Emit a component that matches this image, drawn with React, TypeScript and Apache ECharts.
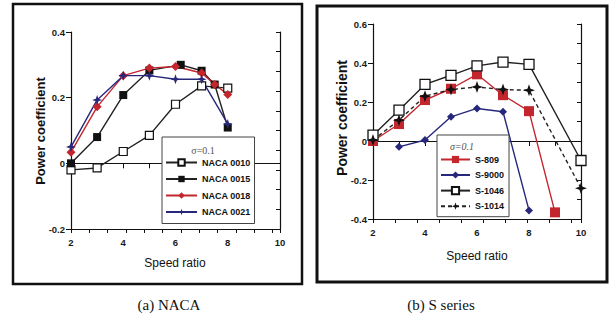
import React, { useEffect, useRef } from "react";
import * as echarts from "echarts";

// ---- Data: (a) NACA ----
const naca0010X = [2, 3, 4, 5, 6, 7, 8];
const naca0010Y = [-0.02, -0.014, 0.036, 0.085, 0.18, 0.236, 0.229];
const naca0015X = [2, 3, 4, 5, 6.2, 7, 7.5, 8];
const naca0015Y = [0, 0.08, 0.208, 0.283, 0.3, 0.282, 0.24, 0.109];
const naca0018X = [2, 3, 4, 5, 6, 7, 7.5, 8];
const naca0018Y = [0.034, 0.172, 0.267, 0.29, 0.295, 0.275, 0.24, 0.21];
const naca0021X = [2, 3, 4, 5, 6, 7, 8];
const naca0021Y = [0.05, 0.193, 0.267, 0.267, 0.256, 0.256, 0.12];

// ---- Data: (b) S series ----
const s809X = [2, 3, 4, 5, 6, 7, 8, 9];
const s809Y = [0, 0.087, 0.21, 0.268, 0.342, 0.235, 0.153, -0.366];
const s9000X = [3, 4, 5, 6, 7, 8];
const s9000Y = [-0.03, 0.005, 0.124, 0.167, 0.15, -0.356];
const s1046X = [2, 3, 4, 5, 6, 7, 8, 10];
const s1046Y = [0.03, 0.158, 0.29, 0.337, 0.385, 0.405, 0.393, -0.1];
const s1014X = [2, 3, 4, 5, 6, 7, 8, 10];
const s1014Y = [0.005, 0.107, 0.23, 0.264, 0.277, 0.264, 0.26, -0.242];

const nacaNames = ["NACA 0010", "NACA 0015", "NACA 0018", "NACA 0021"];
const sNames = ["S-809", "S-9000", "S-1046", "S-1014"];
const xTickLabels = [2, 4, 6, 8, 10];
const captions = ["(a) NACA", "(b) S series"];
const sigmaLabel = "σ=0.1";
const yTitle = "Power coefficient";
const xTitle = "Speed ratio";

const zip = (xs: number[], ys: number[]) => xs.map((x, i) => [x, ys[i]]);

const SANS = "'Liberation Sans', Arial, sans-serif";
const SERIF = "'Liberation Serif', 'Times New Roman', serif";
const RED = "#c4262e";
const BLUE = "#27277c";
const STAR = "path://M0,-10 L2.6,-2.6 L10,0 L2.6,2.6 L0,10 L-2.6,2.6 L-10,0 L-2.6,-2.6 Z";

function makeAxes(gi: number, yMin: number, yMax: number, topMax: number) {
  const labelStyle = { fontFamily: SANS, fontWeight: "bold", fontSize: 9.5, color: "#1a1a1a" };
  const axisLine = { show: true, lineStyle: { color: "#111", width: 1.2 } };
  const xs = [
    {
      gridIndex: gi, type: "value", position: "bottom", min: 2, max: 10,
      axisLine,
      axisTick: { show: true, inside: false, length: 5, customValues: [2, 3, 4, 5, 6, 7, 8, 9, 10], lineStyle: { color: "#111" } },
      axisLabel: { ...labelStyle, margin: 8, customValues: xTickLabels },
      splitLine: { show: false },
    },
    {
      gridIndex: gi, type: "value", position: "top", min: 0, max: topMax, interval: 1,
      axisLine,
      axisTick: { show: true, inside: true, length: 4, lineStyle: { color: "#111" } },
      axisLabel: { show: false },
      splitLine: { show: false },
    },
  ];
  const ys = [
    {
      gridIndex: gi, type: "value", position: "left", min: yMin, max: yMax, interval: 0.2,
      axisLine,
      axisTick: { show: true, inside: false, length: 5, lineStyle: { color: "#111" } },
      axisLabel: {
        ...labelStyle, margin: 6,
        formatter: (v: number) => {
          const r = Math.round(v * 10) / 10;
          return r === 0 ? "0" : String(r);
        },
      },
      splitLine: { show: false },
    },
    {
      gridIndex: gi, type: "value", position: "right", min: 0, max: 10, interval: 1,
      axisLine,
      axisTick: { show: true, inside: true, length: 4, lineStyle: { color: "#111" } },
      axisLabel: { show: false },
      splitLine: { show: false },
    },
  ];
  return { xs, ys };
}

export default function App() {
  const ref = useRef<HTMLDivElement>(null);
  useEffect(() => {
    if (!ref.current) return;
    const chart = echarts.init(ref.current, undefined, { renderer: "svg" });
    const a = makeAxes(0, -0.2, 0.4, 11.4);
    const b = makeAxes(1, -0.4, 0.6, 9.45);

    const lineW = 1.4;
    const series: any[] = [
      {
        name: nacaNames[0], type: "line", xAxisIndex: 0, yAxisIndex: 0, data: zip(naca0010X, naca0010Y),
        symbol: "rect", symbolSize: 8,
        itemStyle: { color: "#fff", borderColor: "#111", borderWidth: 1.2 },
        lineStyle: { color: "#222", width: lineW },
      },
      {
        name: nacaNames[1], type: "line", xAxisIndex: 0, yAxisIndex: 0, data: zip(naca0015X, naca0015Y),
        symbol: "rect", symbolSize: 8,
        itemStyle: { color: "#111" },
        lineStyle: { color: "#222", width: lineW },
      },
      {
        name: nacaNames[2], type: "line", xAxisIndex: 0, yAxisIndex: 0, data: zip(naca0018X, naca0018Y),
        symbol: "diamond", symbolSize: 9,
        itemStyle: { color: RED },
        lineStyle: { color: RED, width: lineW },
      },
      {
        name: nacaNames[3], type: "line", xAxisIndex: 0, yAxisIndex: 0, data: zip(naca0021X, naca0021Y),
        symbol: STAR, symbolSize: 10,
        itemStyle: { color: BLUE },
        lineStyle: { color: BLUE, width: lineW },
      },
      {
        name: sNames[0], type: "line", xAxisIndex: 2, yAxisIndex: 2, data: zip(s809X, s809Y),
        symbol: "rect", symbolSize: 10,
        itemStyle: { color: RED },
        lineStyle: { color: RED, width: lineW },
      },
      {
        name: sNames[1], type: "line", xAxisIndex: 2, yAxisIndex: 2, data: zip(s9000X, s9000Y),
        symbol: "diamond", symbolSize: 8,
        itemStyle: { color: BLUE },
        lineStyle: { color: BLUE, width: lineW },
      },
      {
        name: sNames[2], type: "line", xAxisIndex: 2, yAxisIndex: 2, data: zip(s1046X, s1046Y),
        symbol: "rect", symbolSize: 10,
        itemStyle: { color: "#fff", borderColor: "#111", borderWidth: 1.3 },
        lineStyle: { color: "#222", width: lineW },
      },
      {
        name: sNames[3], type: "line", xAxisIndex: 2, yAxisIndex: 2, data: zip(s1014X, s1014Y),
        symbol: STAR, symbolSize: 12,
        itemStyle: { color: "#111" },
        lineStyle: { color: "#222", width: lineW, type: [4, 3] },
      },
    ];

    const legendText = { fontFamily: SANS, fontWeight: "bold", fontSize: 9, color: "#111" };
    chart.setOption({
      animation: false,
      backgroundColor: "#fff",
      grid: [
        { left: 71, top: 32, width: 209, height: 197 },
        { left: 373, top: 24, width: 208, height: 195 },
      ],
      xAxis: [...a.xs, ...b.xs],
      yAxis: [...a.ys, ...b.ys],
      legend: [
        {
          data: nacaNames, orient: "vertical", left: 162, top: 137,
          itemWidth: 31, itemHeight: 8, itemGap: 7.5,
          padding: [21, 4, 7, 3], borderColor: "#444", borderWidth: 1, backgroundColor: "#fff",
          textStyle: legendText, selectedMode: false,
        },
        {
          data: sNames, orient: "vertical", left: 437, top: 135,
          itemWidth: 29, itemHeight: 9, itemGap: 6.5,
          padding: [20, 5, 6, 3], borderColor: "#444", borderWidth: 1, backgroundColor: "#fff",
          textStyle: legendText, selectedMode: false,
        },
      ],
      graphic: [
        { type: "rect", shape: { x: 13, y: 4, width: 289, height: 280 }, style: { fill: "none", stroke: "#111", lineWidth: 2.5 }, z: 1 },
        { type: "rect", shape: { x: 317, y: 6, width: 290, height: 276 }, style: { fill: "none", stroke: "#111", lineWidth: 3 }, z: 1 },
        { type: "text", x: 40, y: 131, rotation: Math.PI / 2, style: { text: yTitle, font: `bold 13px ${SANS}`, fill: "#111", textAlign: "center", textVerticalAlign: "middle" }, z: 10 },
        { type: "text", x: 342, y: 118, rotation: Math.PI / 2, style: { text: yTitle, font: `bold 14px ${SANS}`, fill: "#111", textAlign: "center", textVerticalAlign: "middle" }, z: 10 },
        { type: "text", x: 175, y: 263, style: { text: xTitle, font: `12px ${SANS}`, fill: "#111", textAlign: "center", textVerticalAlign: "middle" }, z: 10 },
        { type: "text", x: 477, y: 256, style: { text: xTitle, font: `12px ${SANS}`, fill: "#111", textAlign: "center", textVerticalAlign: "middle" }, z: 10 },
        { type: "text", x: 203, y: 150, style: { text: sigmaLabel, font: `10px ${SERIF}`, fill: "#555", textAlign: "center", textVerticalAlign: "middle" }, z: 100 },
        { type: "text", x: 462, y: 146, style: { text: sigmaLabel, font: `italic 10px ${SERIF}`, fill: "#555", textAlign: "center", textVerticalAlign: "middle" }, z: 100 },
        { type: "text", x: 169, y: 305, style: { text: captions[0], font: `15px ${SERIF}`, fill: "#111", textAlign: "center", textVerticalAlign: "middle" }, z: 10 },
        { type: "text", x: 441, y: 305, style: { text: captions[1], font: `15px ${SERIF}`, fill: "#111", textAlign: "center", textVerticalAlign: "middle" }, z: 10 },
      ],
      series,
    });
    return () => chart.dispose();
  }, []);
  return (
    <div
      ref={ref}
      style={{ position: "absolute", left: 0, top: 0, width: 611, height: 321, background: "#fff" }}
    />
  );
}
